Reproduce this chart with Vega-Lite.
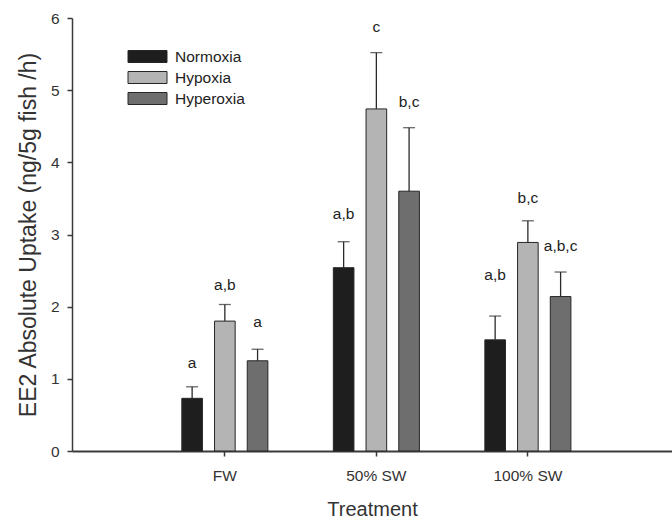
{
  "$schema": "https://vega.github.io/schema/vega-lite/v6.json",
  "autosize": "none",
  "width": 600,
  "height": 433,
  "padding": {"left": 72, "top": 18, "right": 0, "bottom": 70},
  "background": "white",
  "config": {
    "font": "Liberation Sans",
    "view": {"stroke": null},
    "axis": {"grid": false, "domainColor": "#3a3a3a", "tickColor": "#3a3a3a", "labelColor": "#333333", "titleColor": "#333333", "labelFontSize": 15.5, "titleFontSize": 20, "titleFontWeight": "normal", "tickSize": 5}
  },
  "data": {"values": [
    {"treatment": "FW", "condition": "Normoxia", "mean": 0.73, "upper": 0.89, "letter": "a", "label_y": 1.22},
    {"treatment": "FW", "condition": "Hypoxia", "mean": 1.80, "upper": 2.03, "letter": "a,b", "label_y": 2.30},
    {"treatment": "FW", "condition": "Hyperoxia", "mean": 1.25, "upper": 1.41, "letter": "a", "label_y": 1.79},
    {"treatment": "50% SW", "condition": "Normoxia", "mean": 2.54, "upper": 2.90, "letter": "a,b", "label_y": 3.29},
    {"treatment": "50% SW", "condition": "Hypoxia", "mean": 4.74, "upper": 5.52, "letter": "c", "label_y": 5.88},
    {"treatment": "50% SW", "condition": "Hyperoxia", "mean": 3.60, "upper": 4.48, "letter": "b,c", "label_y": 4.84},
    {"treatment": "100% SW", "condition": "Normoxia", "mean": 1.54, "upper": 1.87, "letter": "a,b", "label_y": 2.44},
    {"treatment": "100% SW", "condition": "Hypoxia", "mean": 2.89, "upper": 3.19, "letter": "b,c", "label_y": 3.51},
    {"treatment": "100% SW", "condition": "Hyperoxia", "mean": 2.14, "upper": 2.48, "letter": "a,b,c", "label_y": 2.84}
  ]},
  "encoding": {
    "x": {"field": "treatment", "type": "nominal", "sort": ["FW", "50% SW", "100% SW"],
      "scale": {"paddingInner": 0, "paddingOuter": 0.48, "align": 0.53},
      "axis": {"title": "Treatment", "labelAngle": 0, "domainWidth": 2, "tickWidth": 1.5, "labelPadding": 12, "titlePadding": 16}},
    "xOffset": {"field": "condition", "type": "nominal", "sort": ["Normoxia", "Hypoxia", "Hyperoxia"],
      "scale": {"paddingInner": 0.37, "paddingOuter": 1.2}}
  },
  "layer": [
    {
      "mark": {"type": "bar", "stroke": "#262626", "strokeWidth": 1},
      "encoding": {
        "y": {"field": "mean", "type": "quantitative",
          "scale": {"domain": [0, 6], "nice": false},
          "axis": {"title": "EE2 Absolute Uptake (ng/5g fish /h)", "titleFontSize": 23, "values": [0, 1, 2, 3, 4, 5, 6], "format": "d", "domainWidth": 1.5, "tickWidth": 1.5, "labelPadding": 8, "titlePadding": 10}},
        "fill": {"field": "condition", "type": "nominal", "sort": ["Normoxia", "Hypoxia", "Hyperoxia"],
          "scale": {"domain": ["Normoxia", "Hypoxia", "Hyperoxia"], "range": ["#1e1e1e", "#b4b4b4", "#6e6e6e"]},
          "legend": {"title": null, "orient": "none", "legendX": 65, "legendY": 28,
            "symbolType": "M-1.95,-0.6L1.95,-0.6L1.95,0.6L-1.95,0.6Z", "symbolSize": 400,
            "symbolStrokeColor": "#262626", "symbolStrokeWidth": 1, "symbolOpacity": 1,
            "labelFontSize": 15.5, "labelColor": "#222222", "labelOffset": 17, "rowPadding": 2}}
      }
    },
    {
      "mark": {"type": "rule", "color": "#2a2a2a", "strokeWidth": 1.3},
      "encoding": {
        "y": {"field": "mean", "type": "quantitative"},
        "y2": {"field": "upper"}
      }
    },
    {
      "mark": {"type": "tick", "orient": "horizontal", "size": 12, "thickness": 1.3, "color": "#2a2a2a"},
      "encoding": {
        "y": {"field": "upper", "type": "quantitative"}
      }
    },
    {
      "mark": {"type": "text", "fontSize": 15.5, "color": "#222222", "baseline": "middle"},
      "encoding": {
        "y": {"field": "label_y", "type": "quantitative"},
        "text": {"field": "letter"}
      }
    }
  ]
}
